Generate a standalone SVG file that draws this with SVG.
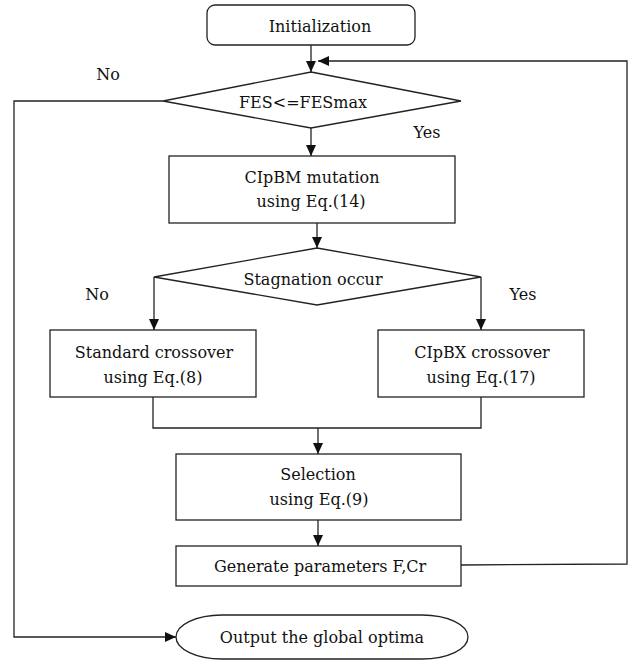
<svg xmlns="http://www.w3.org/2000/svg" width="629" height="661" viewBox="0 0 629 661">
<style>
.box{fill:#fff;stroke:#222;stroke-width:1.3}
.ln{fill:none;stroke:#222;stroke-width:1.3}
.arr{marker-end:url(#ah)}
text{font-family:"DejaVu Serif","Liberation Serif",serif;font-size:16px;fill:#111;text-anchor:middle}
</style>
<defs>
<marker id="ah" markerUnits="userSpaceOnUse" markerWidth="12" markerHeight="10" refX="11" refY="5" orient="auto">
<path d="M0,0 L11,5 L0,10 z" fill="#111"/>
</marker>
</defs>
<rect width="629" height="661" fill="#fff"/>
<g id="connectors">
<path class="ln arr" d="M311,45 V72"/>
<path class="ln arr" d="M461,565 L627,564 V61 H318"/>
<path class="ln arr" d="M163,101 H14 V637 H176"/>
<path class="ln arr" d="M311,128 V156"/>
<path class="ln arr" d="M317,223 V248"/>
<path class="ln arr" d="M154,277 V330"/>
<path class="ln arr" d="M481,277 V330"/>
<path class="ln" d="M153,397 V428 H481 V397"/>
<path class="ln arr" d="M318,428 V454"/>
<path class="ln arr" d="M318,520 V546"/>
<text x="108" y="80">No</text>
<text x="427" y="138">Yes</text>
<text x="97" y="300">No</text>
<text x="523" y="300">Yes</text>
</g>
<g id="init">
<rect class="box" x="207" y="5" width="208" height="40" rx="8" ry="8"/>
<text x="320" y="32">Initialization</text>
</g>
<g id="fes">
<polygon class="box" points="311,72 461,101 311,128 163,101"/>
<text x="303" y="108">FES&lt;=FESmax</text>
</g>
<g id="cipbm">
<rect class="box" x="169" y="156" width="286" height="67"/>
<text x="312" y="183">CIpBM mutation</text>
<text x="311" y="207">using Eq.(14)</text>
</g>
<g id="stagnation">
<polygon class="box" points="317,248 481,277 317,305 154,277"/>
<text x="313" y="285">Stagnation occur</text>
</g>
<g id="standard">
<rect class="box" x="50" y="330" width="206" height="67"/>
<text x="154" y="358">Standard crossover</text>
<text x="153" y="383">using Eq.(8)</text>
</g>
<g id="cipbx">
<rect class="box" x="378" y="330" width="206" height="67"/>
<text x="482" y="358">CIpBX crossover</text>
<text x="481" y="383">using Eq.(17)</text>
</g>
<g id="selection">
<rect class="box" x="176" y="454" width="285" height="66"/>
<text x="318" y="480">Selection</text>
<text x="319" y="505">using Eq.(9)</text>
</g>
<g id="generate">
<rect class="box" x="176" y="546" width="285" height="40"/>
<text x="320" y="572">Generate parameters F,Cr</text>
</g>
<g id="output">
<rect class="box" x="176" y="615" width="292" height="44" rx="46" ry="22"/>
<text x="322" y="643">Output the global optima</text>
</g>
</svg>
